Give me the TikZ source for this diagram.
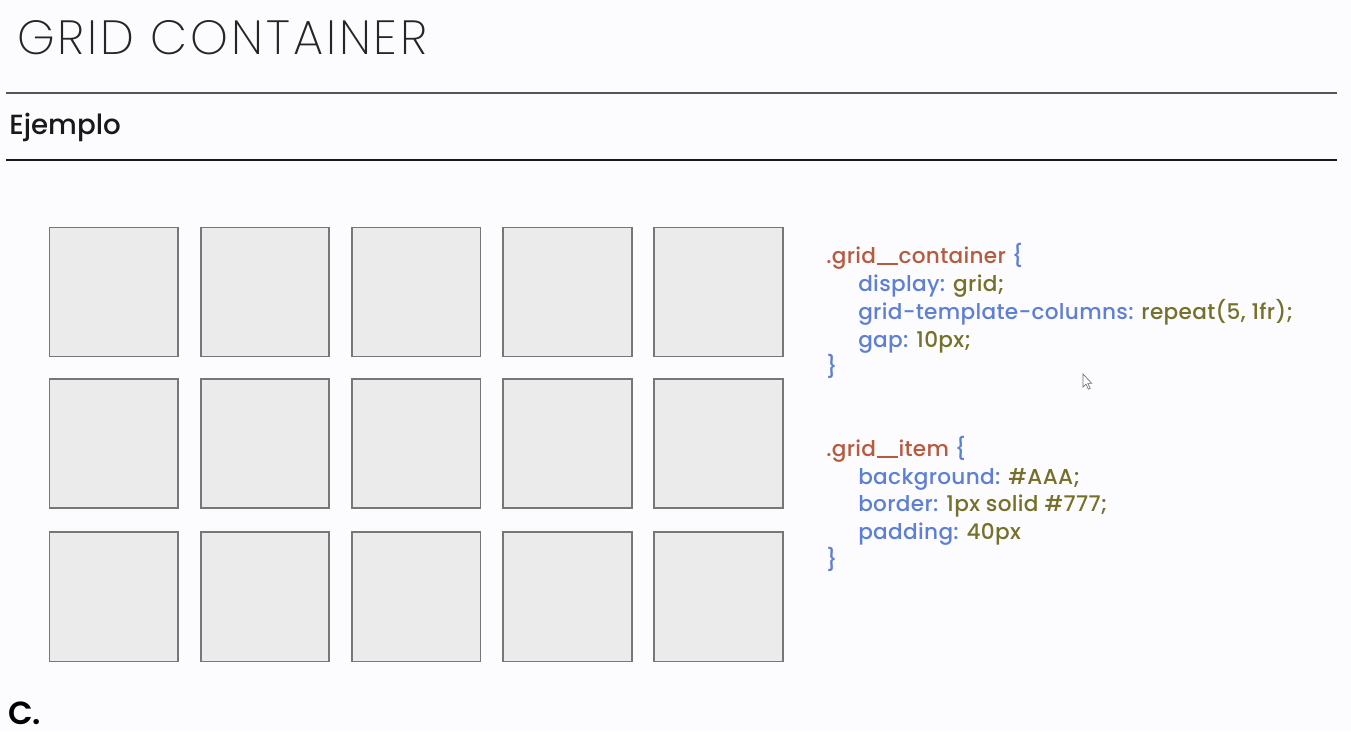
\documentclass[tikz,border=0pt]{standalone}
\usepackage{fontspec}
\setmainfont{Poppins}
\newfontfamily\titlefont{Poppins ExtraLight}[LetterSpace=6]
\newfontfamily\medfont{Poppins Medium}
\newfontfamily\codefont{Poppins Medium}[LetterSpace=1.5]
\newfontfamily\semifont{Poppins SemiBold}
\newcommand{\dblus}{\kern0.03em\rule[-0.06em]{0.98em}{0.085em}\kern0.03em}
\definecolor{bgcol}{HTML}{FCFCFE}
\definecolor{boxfill}{HTML}{EBEBEB}
\definecolor{boxdraw}{HTML}{777777}
\definecolor{selcol}{HTML}{B85A3E}
\definecolor{propcol}{HTML}{5E7FD6}
\definecolor{valcol}{HTML}{75702A}
\definecolor{rulegray}{HTML}{555555}
\tikzset{
  gitem/.style={draw=boxdraw, fill=boxfill, line width=1.3pt, minimum width=96.4pt, minimum height=96.8pt, inner sep=0pt, outer sep=0pt, anchor=north west},
  codeline/.style={anchor=base west, inner sep=0pt, font=\codefont\fontsize{16.2}{19}\selectfont},
  rulestyle/.style={line width=1.1pt}
}
\begin{document}
\begin{tikzpicture}[x=0.75pt,y=-0.75pt]
\fill[bgcol] (0,0) rectangle (1351,731);
\useasboundingbox (0,0) rectangle (1351,731);
% title and rules
\node[anchor=base west, inner sep=0pt, text=black!85, font=\titlefont\fontsize{36}{40}\selectfont] (title) at (17,55) {GRID CONTAINER};
\coordinate (r1a) at (6,93);
\coordinate (r1b) at (1337,93);
\coordinate (r2a) at (6,160);
\coordinate (r2b) at (1337,160);
\draw[rulestyle, rulegray] (r1a) -- (r1b);
\draw[rulestyle, black!90] (r2a) -- (r2b);
\node[anchor=base west, inner sep=0pt, text=black!90, font=\medfont\fontsize{20.8}{24}\selectfont] (ejemplo) at (9,135) {Ejemplo};
% grid items
\foreach \c in {0,...,4}{
  \node[gitem] (a\c) at ({49.5+151.2*\c},227.5) {};
  \node[gitem] (b\c) at ({49.5+151.2*\c},379) {};
  \node[gitem] (d\c) at ({49.5+151.2*\c},532.3) {};
}
% code block 1
\node[codeline] (c1) at (826,263.5) {\color{selcol}.grid\dblus container \color{propcol}\{};
\node[codeline] (c2) at (858,291) {\color{propcol}display: \color{valcol}grid;};
\node[codeline] (c3) at (858,319) {\color{propcol}grid-template-columns: \color{valcol}repeat(5, 1fr);};
\node[codeline] (c4) at (858,347) {\color{propcol}gap: \color{valcol}10px;};
\node[codeline] (c5) at (826,374) {\color{propcol}\}};
% code block 2
\node[codeline] (e1) at (826,456.5) {\color{selcol}.grid\dblus item \color{propcol}\{};
\node[codeline] (e2) at (858,484) {\color{propcol}background: \color{valcol}\#AAA;};
\node[codeline] (e3) at (858,511.5) {\color{propcol}border: \color{valcol}1px solid \#777;};
\node[codeline] (e4) at (858,539.5) {\color{propcol}padding: \color{valcol}40px};
\node[codeline] (e5) at (826,567) {\color{propcol}\}};
% cursor
\draw[line width=0.5pt, draw=black!55, fill=white] (1083,374) -- (1083,387) -- (1086,384.2) -- (1088.4,389.2) -- (1090.2,388.4) -- (1087.8,383.4) -- (1091.6,383.2) -- cycle;
% bottom text
\node[anchor=base west, inner sep=0pt, text depth=0pt, text=black, font=\semifont\fontsize{24}{28}\selectfont] (cdot) at (8,724) {C.};
\end{tikzpicture}
\end{document}
